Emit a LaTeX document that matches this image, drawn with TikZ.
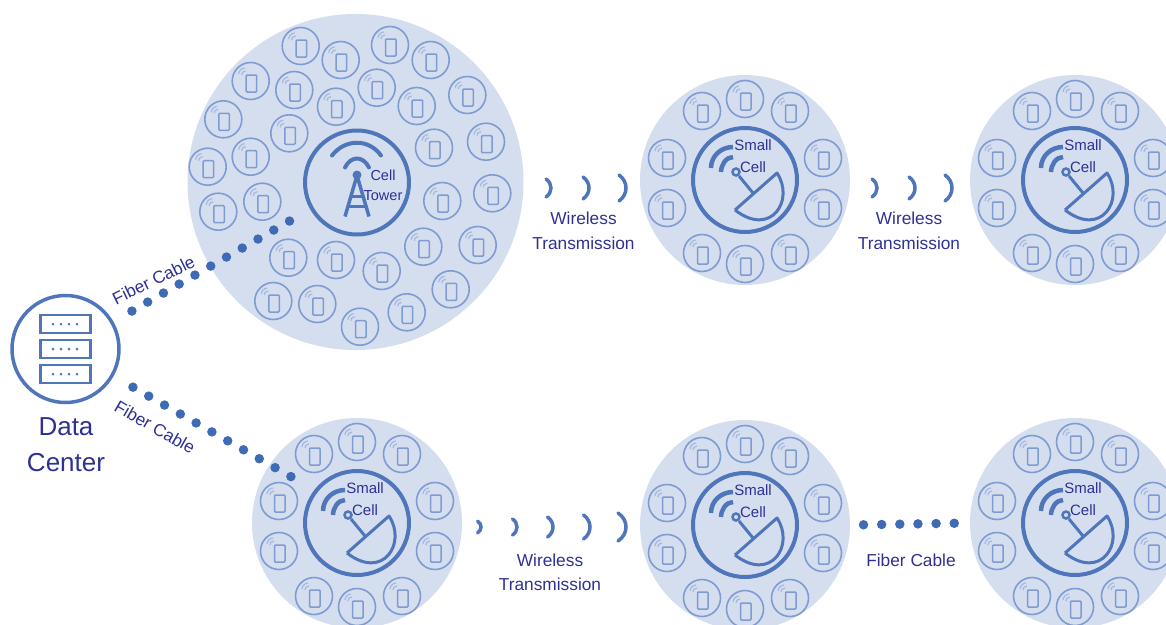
\documentclass[tikz,border=0pt]{standalone}
\usepackage{fontspec}
\setmainfont{Liberation Sans}
\usepackage{xcolor}
\definecolor{cellfill}{HTML}{D5DEEF}
\definecolor{iconblue}{HTML}{4F76BA}
\definecolor{phoneblue}{HTML}{7E9BD2}
\definecolor{dotblue}{HTML}{3F6BB5}
\definecolor{labelblue}{HTML}{2E3192}
\tikzset{
  phone/.pic={
    \draw[phoneblue, line width=1.6pt] (0,0) circle[radius=18.5pt];
    \draw[phoneblue, line width=1.5pt, rounded corners=1pt] (-4.5,-6) rectangle (6,11);
    \draw[phoneblue!70, line width=1.2pt] (-12,-7) .. controls (-12,-10) and (-9,-13) .. (-6,-13);
    \draw[phoneblue!70, line width=1.2pt] (-9,-6) .. controls (-9,-8) and (-8,-10) .. (-5,-10);
  },
  smallcell/.pic={
    \foreach \px/\py in {0/-81,-43/-69,45/-69,-78/-22,78/-22,-78/28,78/28,-43/73,45/73,0/84}
      \pic at (\px,\py) {phone};
    \node[iconring] (ring) at (0,0) {};
    \draw[iconblue, line width=4.5pt] (-34,-12) .. controls (-34,-24) and (-24,-33) .. (-12,-33);
    \draw[iconblue, line width=4.5pt] (-24,-8) .. controls (-24,-15) and (-19,-23) .. (-12,-23);
    \draw[iconblue, line width=2.5pt] (-9,-8) circle[radius=3.5pt];
    \draw[iconblue, line width=3pt] (-6,-4) -- (8,13);
    \draw[iconblue, line width=3pt, line join=round] (-10,30) -- (32,-7) .. controls (50,20) and (26,58) .. (-10,30);
    \node[celltext] (celllbl) at (8,-24) {Small\\Cell};
  }
}
\begin{document}
\begin{tikzpicture}[x=1pt, y=-1pt,
  cellbg/.style={circle, fill=cellfill, minimum size=210pt, inner sep=0pt, outer sep=0pt},
  iconring/.style={circle, draw=iconblue, line width=4pt, minimum size=104pt, inner sep=0pt, outer sep=0pt},
  celltext/.style={text=labelblue, align=center, inner sep=0pt, font=\fontsize{15}{21.5}\selectfont},
  lbl/.style={text=labelblue, align=center, inner sep=0pt, font=\fontsize{17.3}{24.5}\selectfont},
  fiber/.style={dotblue, line width=9.5pt, line cap=round, dash pattern=on 0pt off 18.15pt},
  wave/.style={iconblue, line width=3.5pt, line cap=round}
]
\clip (0,0) rectangle (1166,624);

% big cell
\node[cellbg, minimum size=336pt] (bigcell) at (355.5,182) {};
\foreach \x/\y in {300.7/46,340.7/60,390/45,430.7/60,250.7/81,294.3/90,336/106.7,376.7/87.7,
  416.7/106,467.3/95,223.3/119.3,289.3/133.3,434/147.7,486/141.7,250.7/156.7,207.7/166.7,
  262.3/201.7,218.3/211.7,442.3/201,492.3/193.3,423.3/246.7,477.7/245,288.3/257.7,336/260,
  381.7/271,450.7/289.3,273.3/301,317.3/304,406.7/312.3,360/326.7}
  \pic at (\x,\y) {phone};
\node[iconring] (tower) at (357,182.5) {};
\draw[iconblue, line width=4pt, line cap=round] ([shift={(-25,-27)}]tower.center) .. controls ([shift={(-12,-44)}]tower.center) and ([shift={(12,-44)}]tower.center) .. ([shift={(24,-27)}]tower.center);
\draw[iconblue, line width=4pt, line cap=round] ([shift={(-12,-15)}]tower.center) .. controls ([shift={(-6,-27)}]tower.center) and ([shift={(6,-27)}]tower.center) .. ([shift={(12,-15)}]tower.center);
\fill[iconblue] ([shift={(0,-7.5)}]tower.center) circle[radius=4.5pt];
\draw[iconblue, line width=3.5pt, line join=round] ([shift={(-12,34)}]tower.center) -- ([shift={(0,-7)}]tower.center) -- ([shift={(12,34)}]tower.center);
\draw[iconblue, line width=3pt] ([shift={(-6,14)}]tower.center) -- ([shift={(6,14)}]tower.center);
\draw[iconblue, line width=3pt] ([shift={(-9,24)}]tower.center) -- ([shift={(9,24)}]tower.center);
\node[celltext, font=\fontsize{14.5}{20.6}\selectfont] (towerlbl) at (383,185.5) {Cell\\Tower};

% small cells
\foreach \name/\x/\y in {cellA/745/180, cellB/1075/180, cellC/357/523, cellD/745/525, cellE/1075/523} {
  \node[cellbg] (\name) at (\x,\y) {};
  \pic at (\name) {smallcell};
}

% data center
\node[circle, draw=iconblue, line width=3.5pt, minimum size=107pt, inner sep=0pt, outer sep=0pt] (dc) at (65.5,349) {};
\foreach \ry in {-25,0,25} {
  \draw[iconblue, line width=2.5pt] ([shift={(-25,\ry-9)}]dc.center) rectangle ([shift={(25,\ry+9)}]dc.center);
  \foreach \rx in {-12.5,-4.5,3.5,11.5}
    \fill[iconblue] ([shift={(\rx,\ry)}]dc.center) circle[radius=1.5pt];
}
\node[lbl, font=\fontsize{26}{36}\selectfont] (dclbl) at (66,445) {Data\\Center};

% links
\draw[fiber, shorten <=23pt, shorten >=76pt] (dc) -- (tower.center);
\draw[fiber, shorten <=24pt, shorten >=73pt] (dc) -- ([yshift=9pt]cellC.center);
\draw[fiber, shorten <=13.5pt, shorten >=15pt] (cellD.east) -- (cellE.west);
\node[lbl] (fiberlbl) at (911,560) {Fiber Cable};
\node[lbl, rotate=26] (fibertop) at (153.5,280) {Fiber Cable};
\node[lbl, rotate=-30] (fiberbot) at (155,427) {Fiber Cable};

% wireless
\foreach \x/\h/\s in {551/9/5, 589/11/6, 626/13/7, 877/9/5, 915/11/6, 952/13/7}
  \draw[wave] (\x-\s,188-\h) .. controls (\x+\s/3,188-\h/2) and (\x+\s/3,188+\h/2) .. (\x-\s,188+\h);
\foreach \x/\h/\s in {481/6/3.5, 517/8/4.5, 553/10/5.5, 590/12/6.5, 626/14/8}
  \draw[wave] (\x-\s,527-\h) .. controls (\x+\s/3,527-\h/2) and (\x+\s/3,527+\h/2) .. (\x-\s,527+\h);
\node[lbl] (wlA) at (583.5,231) {Wireless\\Transmission};
\node[lbl] (wlB) at (909,231) {Wireless\\Transmission};
\node[lbl] (wlC) at (550,572.5) {Wireless\\Transmission};
\end{tikzpicture}
\end{document}
